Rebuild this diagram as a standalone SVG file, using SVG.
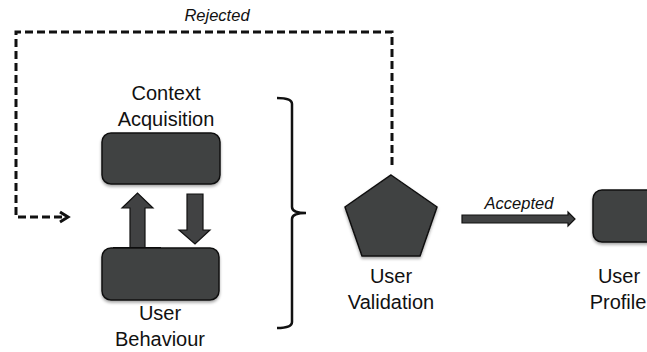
<svg xmlns="http://www.w3.org/2000/svg" width="647" height="352" viewBox="0 0 647 352">
<style>
.lbl{font-family:"Liberation Sans",Arial,sans-serif;font-size:20px;fill:#111;text-anchor:middle}
.it{font-family:"Liberation Sans",Arial,sans-serif;font-size:16.5px;font-style:italic;fill:#111;text-anchor:middle}
.box{fill:#414243;stroke:#111;stroke-width:1.5}
.blk{fill:#414243;stroke:#111;stroke-width:1.2;stroke-linejoin:miter}
.dash{fill:none;stroke:#111;stroke-width:3;stroke-dasharray:8 4}
</style>
<defs>
<filter id="sh" x="-20%" y="-20%" width="140%" height="150%">
<feDropShadow dx="0" dy="2" stdDeviation="1.5" flood-color="#000" flood-opacity="0.35"/>
</filter>
</defs>
<g id="connectors">
<path class="dash" d="M392,165 V32 H16 V217 H64"/>
<path d="M60,212 L68,217 L60,222" fill="none" stroke="#111" stroke-width="3"/>
<polygon class="blk" points="130,248 130,208 122,208 137.5,193 153,208 145,208 145,248"/>
<polygon class="blk" points="187,194 203,194 203,230 210,230 195,244 179,230 187,230"/>
<line x1="113" y1="248" x2="161" y2="248" stroke="#000" stroke-width="2"/>
<polygon class="blk" points="462,215 568,215 568,212 575,219 568,226 568,223 462,223"/>
<path d="M277,98 Q292,98 292,104 V207 Q292,213 306,213 Q292,213 292,219 V322 Q292,328 277,328" fill="none" stroke="#111" stroke-width="2.5"/>
<text class="it" x="217" y="21">Rejected</text>
<text class="it" x="519" y="209">Accepted</text>
</g>
<g id="context-acquisition">
<rect class="box" filter="url(#sh)" x="102" y="133" width="118" height="51" rx="9"/>
<text class="lbl" x="166" y="100">Context</text>
<text class="lbl" x="166" y="126">Acquisition</text>
</g>
<g id="user-behaviour">
<rect class="box" filter="url(#sh)" x="102" y="248" width="117" height="52" rx="9"/>
<text class="lbl" x="160" y="320">User</text>
<text class="lbl" x="160" y="346">Behaviour</text>
</g>
<g id="user-validation">
<polygon class="box" filter="url(#sh)" points="391,175 437,207 420,256 362,256 345,207"/>
<text class="lbl" x="391" y="283">User</text>
<text class="lbl" x="391" y="309">Validation</text>
</g>
<g id="user-profile">
<rect class="box" filter="url(#sh)" x="593" y="190" width="80" height="52" rx="9"/>
<text class="lbl" x="619" y="283">User</text>
<text class="lbl" x="618" y="309">Profile</text>
</g>
</svg>
